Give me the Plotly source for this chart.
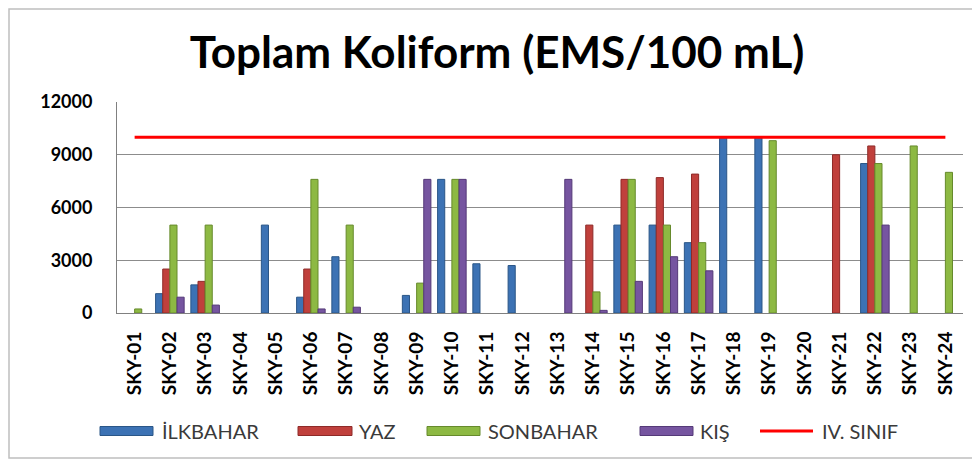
import plotly.graph_objects as go

categories = [f"SKY-{i:02d}" for i in range(1, 25)]

ilkbahar = [None, 1100, 1600, None, 5000, 900, 3200, None, 1000, 7600, 2800, 2700,
            None, None, 5000, 5000, 4000, 10000, 10000, None, None, 8500, None, None]
yaz = [None, 2500, 1800, None, None, 2500, None, None, None, None, None, None,
       None, 5000, 7600, 7700, 7900, None, None, None, 9000, 9500, None, None]
sonbahar = [230, 5000, 5000, None, None, 7600, 5000, None, 1700, 7600, None, None,
            None, 1200, 7600, 5000, 4000, None, 9800, None, None, 8500, 9500, 8000]
kis = [None, 900, 450, None, None, 230, 330, None, 7600, 7600, None, None,
       7600, 150, 1800, 3200, 2400, None, None, None, None, 5000, None, None]
sinif = [10000] * 24
yticks = [0, 3000, 6000, 9000, 12000]

series = [
    ("İLKBAHAR", ilkbahar, "#3C72B4", "#2A5687"),
    ("YAZ", yaz, "#C0403C", "#8E2A28"),
    ("SONBAHAR", sonbahar, "#8DB943", "#668A2C"),
    ("KIŞ", kis, "#7655A0", "#553A78"),
]
line_name, line_color = "IV. SINIF", "#FF0000"

# page offset (default body margin) and plot-area geometry in page pixels
O = 8
L, R, T, B = 117, 963, 102, 313
W, H = 980 - O, 463 - O


def px(x):
    return (x - L) / (R - L)


def py(y):
    return (B - y) / (B - T)


fig = go.Figure()
for name, vals, col, edge in series:
    fig.add_trace(go.Bar(x=categories, y=vals, name=name, showlegend=False,
                         marker=dict(color=col, line=dict(color=edge, width=1))))
fig.add_trace(go.Scatter(x=categories, y=sinif, name=line_name, mode="lines",
                         showlegend=False, line=dict(color=line_color, width=3)))

fig.update_layout(
    width=W, height=H,
    margin=dict(l=L - O, r=W - (R - O), t=T - O, b=H - (B - O), autoexpand=False),
    paper_bgcolor="white", plot_bgcolor="white",
    font=dict(family="Lato, Arial, sans-serif", color="black"),
    title=dict(text="<b>Toplam Koliform (EMS/100 mL)</b>", xref="container",
               x=(497 - O) / W, xanchor="center",
               y=1 - (53 - O) / H, yanchor="middle",
               font=dict(size=44, family="Lato", color="black")),
    barmode="group", bargap=0.19, bargroupgap=0.0,
    showlegend=False,
    xaxis=dict(type="category", tickangle=-90, showline=True, linecolor="#808080",
               linewidth=1, ticks="", showgrid=False, automargin=False,
               tickvals=categories, ticktext=[f"<b>{c}</b>" for c in categories],
               tickfont=dict(size=19, family="Lato", color="black"),
               ticklabelstandoff=10),
    yaxis=dict(range=[0, 12000], tickvals=yticks,
               ticktext=[f"<b>{v}</b>" for v in yticks],
               showgrid=True, gridcolor="#8C8C8C", gridwidth=1, showline=True,
               linecolor="#808080", linewidth=1, zeroline=False, ticks="",
               automargin=False,
               tickfont=dict(size=18, family="Lato", color="black"),
               ticklabelstandoff=20),
)

# custom legend (wide Excel-style swatches)
legend_y = 431
swatches = [(100, 153, 160), (298, 352, 357), (427, 480, 486), (640, 693, 698)]
for (x0, x1, tx), (name, _, col, edge) in zip(swatches, series):
    fig.add_shape(type="rect", xref="paper", yref="paper",
                  x0=px(x0), x1=px(x1), y0=py(legend_y + 4.5), y1=py(legend_y - 4.5),
                  fillcolor=col, line=dict(color=edge, width=1))
    fig.add_annotation(text=name, xref="paper", yref="paper", x=px(tx), y=py(legend_y),
                       xanchor="left", yanchor="middle", showarrow=False,
                       font=dict(size=20, family="Lato", color="#3A3A3A"))
fig.add_shape(type="line", xref="paper", yref="paper",
              x0=px(760), x1=px(813), y0=py(legend_y), y1=py(legend_y),
              line=dict(color=line_color, width=3))
fig.add_annotation(text=line_name, xref="paper", yref="paper", x=px(820), y=py(legend_y),
                   xanchor="left", yanchor="middle", showarrow=False,
                   font=dict(size=20, family="Lato", color="#3A3A3A"))

# outer chart frame
fig.add_shape(type="rect", xref="paper", yref="paper",
              x0=px(9), x1=px(975), y0=py(458), y1=py(9),
              line=dict(color="#BFBFBF", width=1.5), fillcolor="rgba(0,0,0,0)",
              layer="below")

fig.write_html("out.html")
